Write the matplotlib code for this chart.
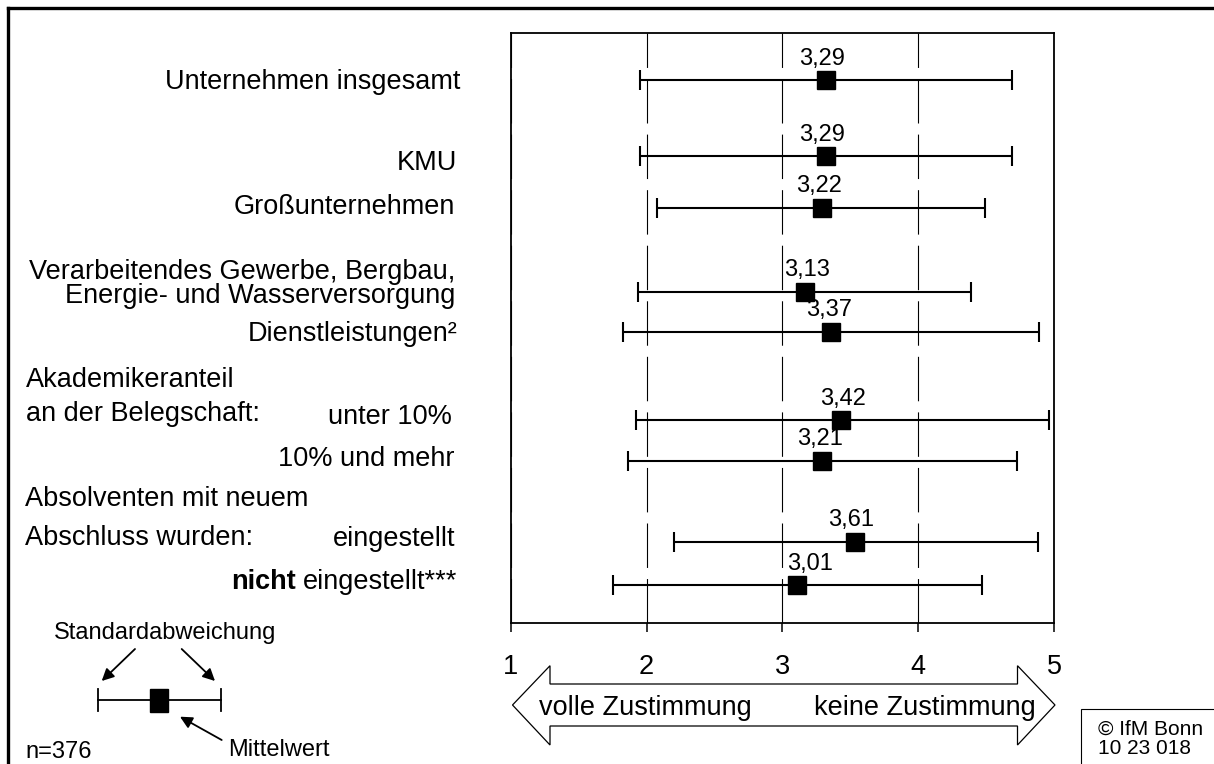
import matplotlib.pyplot as plt
from matplotlib.patches import Polygon, Rectangle, FancyArrowPatch
from matplotlib.lines import Line2D

plt.rcParams['font.family'] = ['Liberation Sans', 'DejaVu Sans']

W, H = 1214, 764

# Daten
categories = ['Unternehmen insgesamt', 'KMU', 'Großunternehmen',
              'Verarbeitendes Gewerbe, Bergbau,\nEnergie- und Wasserversorgung',
              'Dienstleistungen²', 'unter 10%', '10% und mehr',
              'eingestellt', 'nicht eingestellt***']
mean_values = [3.29, 3.29, 3.22, 3.13, 3.37, 3.42, 3.21, 3.61, 3.01]
marker_pos = [3.32, 3.32, 3.29, 3.165, 3.355, 3.43, 3.29, 3.535, 3.105]
sd_low = [1.95, 1.95, 2.08, 1.94, 1.83, 1.92, 1.86, 2.20, 1.75]
sd_high = [4.69, 4.69, 4.49, 4.39, 4.89, 4.96, 4.73, 4.88, 4.47]
x_ticks = [1, 2, 3, 4, 5]
group_labels = ['Akademikeranteil', 'an der Belegschaft:',
                'Absolventen mit neuem', 'Abschluss wurden:']

# Layout (Pixel von oben)
row_y = [47, 123, 174.7, 258.7, 298.7, 387, 427.7, 508.7, 552.3]
label_xy = [(460, 82), (457, 163), (455, 207), (455, 284), (457, 334),
            (452, 417), (455, 459), (455, 539), (457, 582)]
group_xy = [(26, 380), (26, 414), (25, 499), (25, 538)]
value_dx = [-0.025, -0.025, -0.02, 0.015, -0.01, 0.015, -0.015, -0.03, 0.10]


def px(x, y):
    return x / W, 1 - y / H


fig = plt.figure(figsize=(W / 100, H / 100), dpi=100)
ax = fig.add_axes([510.7 / W, 1 - 622.7 / H, 543.3 / W, 589.7 / H])

ax.errorbar(marker_pos, row_y,
            xerr=[[m - lo for m, lo in zip(marker_pos, sd_low)],
                  [hi - m for m, hi in zip(marker_pos, sd_high)]],
            fmt='s', color='black', ms=13, capsize=7.5,
            elinewidth=1.5, capthick=1.5, zorder=3)

for m, y, v, dx in zip(marker_pos, row_y, mean_values, value_dx):
    ax.annotate(f'{v:.2f}'.replace('.', ','), (m + dx, y), xytext=(0, 11),
                textcoords='offset points', ha='center', va='baseline',
                fontsize=17)

ax.set_xlim(1, 5)
ax.set_ylim(589.7, 0)
ax.set_yticks([])
ax.set_xticks(x_ticks)
ax.set_xticklabels([str(t) for t in x_ticks], fontsize=19.5)
ax.tick_params(axis='x', direction='out', length=6.5, width=1.1, pad=16)
ax.xaxis.grid(True, color='black', lw=0.8, linestyle=(0, (40, 10)))
ax.set_axisbelow(True)
for s in ax.spines.values():
    s.set_linewidth(1.3)

# Beschriftungen links
for i, (cat, (x, y)) in enumerate(zip(categories, label_xy)):
    if cat.startswith('nicht '):
        t = fig.text(*px(x, y), cat[6:], ha='right', va='center', fontsize=19.5)
        ax.annotate('nicht', xy=(0, 0.5), xycoords=t, xytext=(-5, 0),
                    textcoords='offset points', ha='right', va='center',
                    fontsize=19.5, fontweight='bold', annotation_clip=False)
    else:
        fig.text(*px(x, y), cat, ha='right', va='center', fontsize=19.5,
                 multialignment='right', linespacing=0.9)

for g, (x, y) in zip(group_labels, group_xy):
    fig.text(*px(x, y), g, ha='left', va='center', fontsize=19.5)

# Doppelpfeil
arrow_pts = [(512.5, 705), (550, 665.7), (550, 684), (1017.5, 684),
             (1017.5, 665.7), (1055, 705), (1017.5, 745), (1017.5, 726),
             (550, 726), (550, 745)]
fig.add_artist(Polygon([px(x, y) for x, y in arrow_pts], closed=True,
                       facecolor='white', edgecolor='black', lw=0.9,
                       transform=fig.transFigure))
fig.text(*px(538.6, 708), 'volle Zustimmung', ha='left', va='center', fontsize=19.5)
fig.text(*px(1035.7, 708), 'keine Zustimmung', ha='right', va='center', fontsize=19.5)

# Legende unten links
fig.text(*px(165, 633), 'Standardabweichung', ha='center', va='center', fontsize=17)
fig.add_artist(Line2D([98.3 / W, 220.7 / W], [1 - 700 / H] * 2, color='black',
                      lw=1.3, transform=fig.transFigure))
for cx in (98.3, 220.7):
    fig.add_artist(Line2D([cx / W] * 2, [1 - 689 / H, 1 - 711 / H], color='black',
                          lw=1.3, transform=fig.transFigure))
fig.add_artist(Rectangle(px(149.7, 711.7), 18 / W, 22.7 / H, facecolor='black',
                         edgecolor='black', transform=fig.transFigure))
for (x0, y0), (x1, y1) in [((135, 649), (101.7, 681)), ((181.7, 649), (215, 681)),
                           ((221.7, 740), (180, 716.7))]:
    fig.add_artist(FancyArrowPatch(px(x0, y0), px(x1, y1), arrowstyle='-|>',
                                   mutation_scale=18, color='black', lw=1.3,
                                   shrinkA=0, shrinkB=0,
                                   transform=fig.transFigure))
fig.text(*px(227.7, 750), 'Mittelwert', ha='left', va='center', fontsize=17)
fig.text(*px(25, 752), 'n=376', ha='left', va='center', fontsize=17)

# Copyright-Box
fig.add_artist(Rectangle(px(1080.7, 770), 140 / W, 60.7 / H, facecolor='none',
                         edgecolor='black', lw=0.8, transform=fig.transFigure))
fig.text(*px(1097.7, 729), '© IfM Bonn', ha='left', va='center', fontsize=15)
fig.text(*px(1097.7, 749), '10 23 018', ha='left', va='center', fontsize=15)

# Rahmen oben und links
fig.add_artist(Line2D([8 / W, 1], [1 - 8.3 / H] * 2, color='black', lw=2.4,
                      transform=fig.transFigure))
fig.add_artist(Line2D([8.3 / W] * 2, [1 - 8 / H, 0], color='black', lw=2.4,
                      transform=fig.transFigure))

fig.savefig('out.png', dpi=100)
